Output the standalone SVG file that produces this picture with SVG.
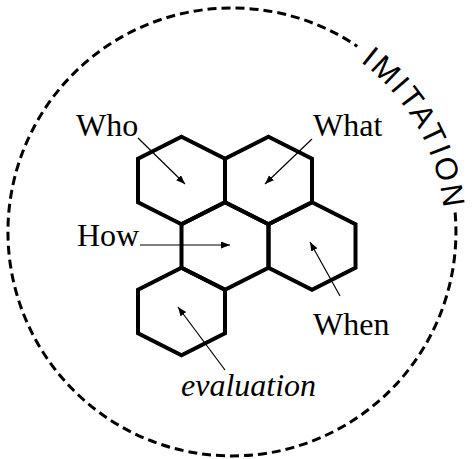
<svg xmlns="http://www.w3.org/2000/svg" width="472" height="459" viewBox="0 0 472 459">
<style>
.hex{fill:none;stroke:#000;stroke-width:4;stroke-linejoin:miter}
.arr{stroke:#000;stroke-width:1.2;fill:none;marker-end:url(#ah)}
.ring{fill:none;stroke:#000;stroke-width:3;stroke-dasharray:9 5}
</style>
<defs>
<marker id="ah" markerUnits="userSpaceOnUse" markerWidth="10" markerHeight="8" refX="9" refY="3.5" orient="auto">
<path d="M0,0 L9,3.5 L0,7 z" fill="#000"/>
</marker>
<path id="ringpath" d="M360.2,61.9 A213,213 0 0 1 416.5,338.5"/>
</defs>
<g id="ring">
<path class="ring" d="M455.1,212.5 A224,224 0 1 1 357.3,46.3"/>
<text font-family="'Liberation Sans', Arial, sans-serif" font-size="31" letter-spacing="2.6" fill="#000"><textPath href="#ringpath">IMITATION</textPath></text>
</g>
<g id="hex-who"><polygon class="hex" points="181.5,136.8 225,158.7 225,202.3 181.5,224.2 138,202.3 138,158.7"/></g>
<g id="hex-what"><polygon class="hex" points="268.5,136.8 312,158.7 312,202.3 268.5,224.2 225,202.3 225,158.7"/></g>
<g id="hex-how"><polygon class="hex" points="225,202.3 268.5,224.2 268.5,267.8 225,289.7 181.5,267.8 181.5,224.2"/></g>
<g id="hex-when"><polygon class="hex" points="312,202.3 355.5,224.2 355.5,267.8 312,289.7 268.5,267.8 268.5,224.2"/></g>
<g id="hex-eval"><polygon class="hex" points="181.5,267.8 225,289.7 225,333.2 181.5,355.2 138,333.2 138,289.7"/></g>
<g id="label-who"><text font-family="'Liberation Serif', 'Times New Roman', serif" font-size="32" fill="#000" x="76" y="136">Who</text></g>
<g id="label-what"><text font-family="'Liberation Serif', 'Times New Roman', serif" font-size="32" fill="#000" x="313" y="136">What</text></g>
<g id="label-how"><text font-family="'Liberation Serif', 'Times New Roman', serif" font-size="32" fill="#000" x="77" y="246">How</text></g>
<g id="label-when"><text font-family="'Liberation Serif', 'Times New Roman', serif" font-size="32" fill="#000" x="313" y="335">When</text></g>
<g id="label-eval"><text font-family="'Liberation Serif', 'Times New Roman', serif" font-size="32" font-style="italic" fill="#000" x="181" y="396">evaluation</text></g>
<g id="connectors">
<line class="arr" x1="138" y1="138" x2="185" y2="184"/>
<line class="arr" x1="312" y1="139" x2="265" y2="184"/>
<line class="arr" x1="140" y1="245" x2="230" y2="245"/>
<line class="arr" x1="340" y1="296" x2="310" y2="242"/>
<line class="arr" x1="225" y1="370" x2="178" y2="307"/>
</g>
</svg>
